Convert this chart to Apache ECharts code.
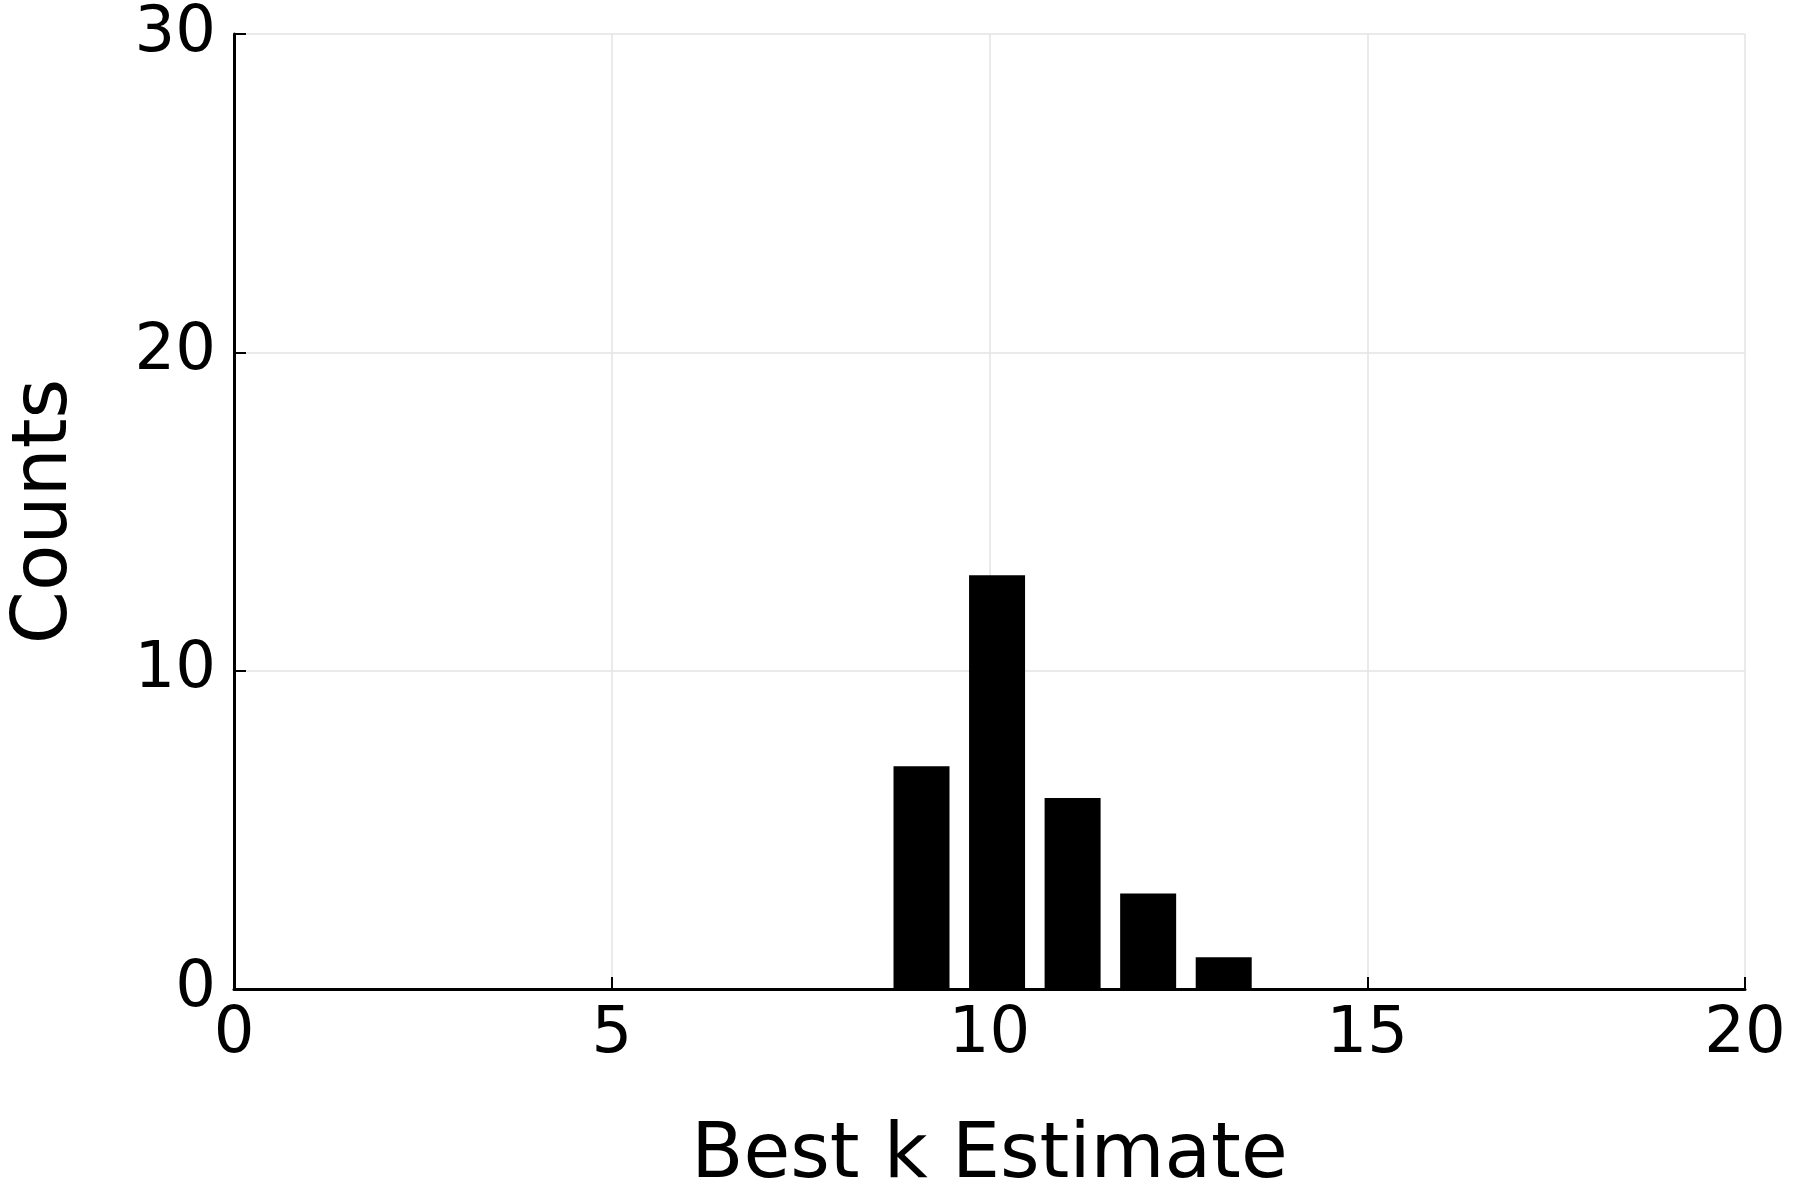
<!DOCTYPE html>
<html><head><meta charset="utf-8">
<script src="https://cdn.jsdelivr.net/npm/echarts@6/dist/echarts.min.js"></script>
<style>html,body{margin:0;padding:0;background:#fff}#c{width:1800px;height:1200px}</style>
</head><body><div id="c"></div>
<script>
const binCenters = [9.1, 10.1, 11.1, 12.1, 13.1];
const counts = [7, 13, 6, 3, 1];
const xTicks = [0, 5, 10, 15, 20];
const yTicks = [0, 10, 20, 30];
const chart = echarts.init(document.getElementById('c'));
const font = 'DejaVu Sans';
chart.setOption({
  animation: false,
  grid: {left: 220, right: 55, top: 34, bottom: 195},
  xAxis: {type: 'value', min: 0, max: 20, interval: 5,
    name: 'Best k Estimate', nameLocation: 'middle', nameGap: 130,
    nameTextStyle: {fontFamily: font, fontSize: 76, color: '#000'},
    axisLine: {show: true, onZero: false, lineStyle: {color: '#000', width: 3}},
    axisTick: {show: true, inside: true, length: 12, lineStyle: {color: '#000', width: 2}},
    axisLabel: {fontFamily: font, fontSize: 64, color: '#000', margin: 14},
    splitLine: {show: true, lineStyle: {color: '#e3e3e3', width: 1.5}}},
  yAxis: {type: 'value', min: 0, max: 30, interval: 10,
    name: 'Counts', nameLocation: 'middle', nameGap: 150,
    nameTextStyle: {fontFamily: font, fontSize: 76, color: '#000'},
    axisLine: {show: true, lineStyle: {color: '#000', width: 3}},
    axisTick: {show: true, inside: true, length: 12, lineStyle: {color: '#000', width: 2}},
    axisLabel: {fontFamily: font, fontSize: 64, color: '#000', margin: 18},
    splitLine: {show: true, lineStyle: {color: '#e3e3e3', width: 1.5}}},
  series: [{type: 'bar', barWidth: 56, itemStyle: {color: '#000'},
    data: binCenters.map((x, i) => [x, counts[i]])}]
});
</script></body></html>
